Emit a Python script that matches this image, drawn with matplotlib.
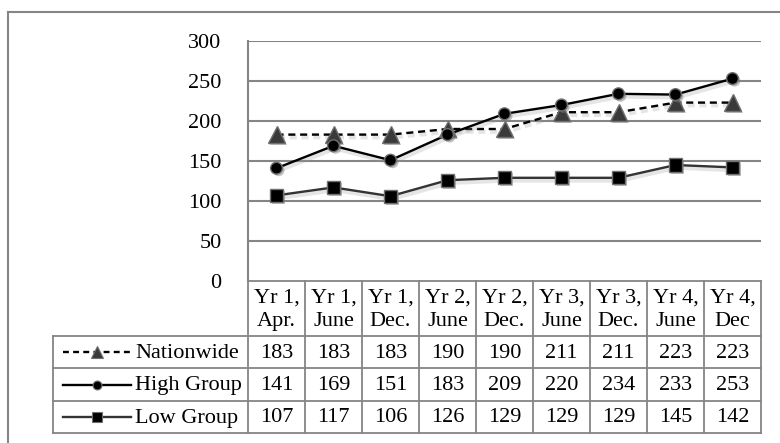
import matplotlib
matplotlib.use('Agg')
import matplotlib.pyplot as plt
import matplotlib.patheffects as pe
import numpy as np

plt.rcParams['font.family'] = ['Liberation Serif', 'DejaVu Serif']

# data
periods = ['Yr 1,\nApr.', 'Yr 1,\nJune', 'Yr 1,\nDec.', 'Yr 2,\nJune', 'Yr 2,\nDec.',
           'Yr 3,\nJune', 'Yr 3,\nDec.', 'Yr 4,\nJune', 'Yr 4,\nDec']
nationwide = [183, 183, 183, 190, 190, 211, 211, 223, 223]
high_group = [141, 169, 151, 183, 209, 220, 234, 233, 253]
low_group = [107, 117, 106, 126, 129, 129, 129, 145, 142]
series_names = ['Nationwide', 'High Group', 'Low Group']
yticks = [0, 50, 100, 150, 200, 250, 300]

# layout in pixels
W, H = 780, 443
PL, PR, PT, PB = 248, 761, 41, 281
TAB_LEFT = 53
ROWS = [336, 368, 401, 433]
GRID = '#858585'
FS = 16

styles = [
    dict(color='black', ls=(0, (3, 2)), marker='^', mfc='#3a3a3a', mec='#707070', ms=12),
    dict(color='black', ls='-', marker='o', mfc='black', mec='#707070', ms=8.5),
    dict(color='#333333', ls='-', marker='s', mfc='black', mec='#707070', ms=9.5),
]
values = [nationwide, high_group, low_group]

fig = plt.figure(figsize=(W / 100, H / 100), dpi=100)
fig.patch.set_facecolor('white')

# overlay for frame and table
tab = fig.add_axes([0, 0, 1, 1])
tab.set_xlim(0, W)
tab.set_ylim(H, 0)
tab.axis('off')

ax = fig.add_axes([PL / W, 1 - PB / H, (PR - PL) / W, (PB - PT) / H])
ax.set_facecolor('none')
n = len(periods)
x = np.arange(n)
ax.set_xlim(-0.5, n - 0.5)
ax.set_ylim(0, 300)
ax.set_yticks(yticks)
ax.set_yticklabels([str(v) for v in yticks], fontsize=FS)
ax.set_xticks([])
ax.tick_params(axis='y', length=0, pad=19)
for s in ['top', 'right', 'bottom']:
    ax.spines[s].set_visible(False)
ax.spines['left'].set_color(GRID)
ax.spines['left'].set_linewidth(1.5)
for v in yticks[1:]:
    ax.axhline(v, color=GRID, lw=1.5, zorder=1)

line_fx = [pe.SimpleLineShadow(offset=(1, -2), shadow_color='#999999', alpha=0.25, linewidth=3), pe.Normal()]
mark_fx = [pe.SimplePatchShadow(offset=(1.5, -1.5), shadow_rgbFace='#777777', alpha=0.45), pe.Normal()]
for vals, st in zip(values, styles):
    ax.plot(x, vals, color=st['color'], ls=st['ls'], lw=1.7, zorder=3, path_effects=line_fx)
    ax.plot(x, vals, ls='none', marker=st['marker'], ms=st['ms'], mfc=st['mfc'],
            mec=st['mec'], mew=1, zorder=4, path_effects=mark_fx)

# outer frame
tab.plot([8, W], [12, 12], color=GRID, lw=1.5)
tab.plot([8, 8], [12, H], color=GRID, lw=1.5)

# table
cw = (PR - PL) / n
col_edges = [PL + cw * i for i in range(n + 1)]
lw_t = 1.3
tab.plot([PL, PR], [PB, PB], color=GRID, lw=lw_t)
for e in col_edges:
    tab.plot([e, e], [PB, ROWS[-1]], color=GRID, lw=lw_t)
tab.plot([TAB_LEFT, TAB_LEFT], [ROWS[0], ROWS[-1]], color=GRID, lw=lw_t)
for r in ROWS:
    tab.plot([TAB_LEFT, PR], [r, r], color=GRID, lw=lw_t)

for i, lab in enumerate(periods):
    tab.text(col_edges[i] + cw / 2, (PB + ROWS[0]) / 2 + 1, lab, ha='center', va='center',
             fontsize=FS, linespacing=1.3)

for j, (name, vals, st) in enumerate(zip(series_names, values, styles)):
    yc = (ROWS[j] + ROWS[j + 1]) / 2
    tab.plot([63, 131], [yc, yc], color=st['color'], ls=(0, (2.5, 1.8)) if j == 0 else '-', lw=1.7)
    tab.plot([97], [yc], ls='none', marker=st['marker'], ms=st['ms'] * 0.75,
             mfc=st['mfc'], mec=st['mec'], mew=0.8)
    tab.text(135, yc + 1, name, ha='left', va='center', fontsize=FS)
    for i, v in enumerate(vals):
        tab.text(col_edges[i] + cw / 2, yc + 1, str(v), ha='center', va='center', fontsize=FS)

fig.savefig('out.png', dpi=100, facecolor='white')
